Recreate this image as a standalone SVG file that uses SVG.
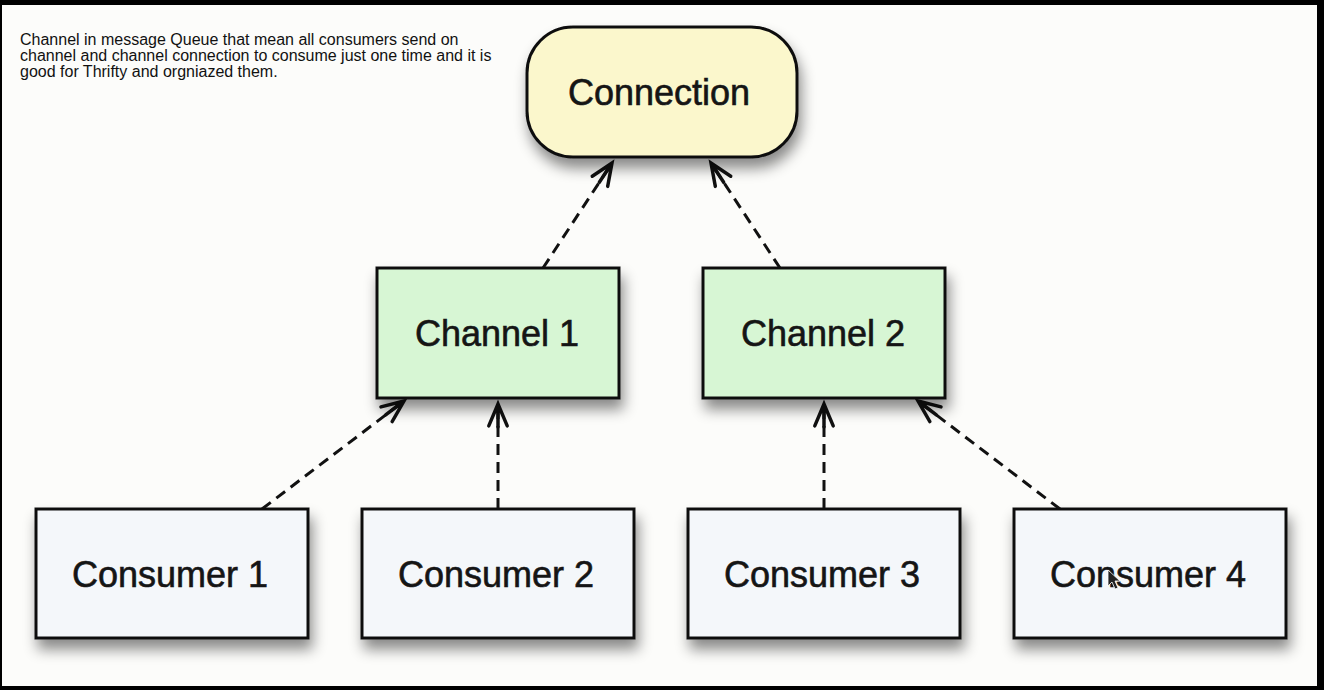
<svg xmlns="http://www.w3.org/2000/svg" width="1324" height="690" viewBox="0 0 1324 690">
<defs>
<style>
.node{stroke:#111;stroke-width:3;filter:url(#sh)}
.conn{fill:#fbf7cc}
.chan{fill:#d7f6d4}
.cons{fill:#f4f7fa}
.lbl{font-family:"Liberation Sans",Arial,sans-serif;font-size:36px;fill:#151515;stroke:#151515;stroke-width:0.6;text-anchor:middle}
.edge{fill:none;stroke:#111;stroke-width:3;stroke-dasharray:11 7;marker-end:url(#ah)}
.note{font-family:"Liberation Sans",Arial,sans-serif;font-size:16px;fill:#111}
</style>
<filter id="sh" x="-20%" y="-20%" width="150%" height="170%">
<feDropShadow dx="3" dy="10" stdDeviation="7" flood-color="#000" flood-opacity="0.45"/>
</filter>
<marker id="ah" markerUnits="userSpaceOnUse" markerWidth="30" markerHeight="30" viewBox="-22 -12 26 24" refX="0" refY="0" orient="auto">
<path d="M-19,-8 L0,0 L-19,8 M-20,0 L0,0" fill="none" stroke="#111" stroke-width="3" stroke-linecap="round" stroke-linejoin="miter"/>
</marker>
</defs>
<rect x="0" y="0" width="1324" height="690" fill="#000"/>
<rect x="2" y="5" width="1315" height="681" fill="#fcfcfa"/>
<g id="note">
<text class="note" x="20" y="45">Channel in message Queue that mean all consumers send on</text>
<text class="note" x="20" y="61">channel and channel connection to consume just one time and it is</text>
<text class="note" x="20" y="77">good for Thrifty and orgniazed them.</text>
</g>
<g id="connectors">
<line class="edge" x1="543" y1="268" x2="612" y2="163"/>
<line class="edge" x1="780" y1="268" x2="711" y2="163"/>
<line class="edge" x1="262" y1="509" x2="404" y2="401"/>
<line class="edge" x1="498" y1="509" x2="498" y2="404"/>
<line class="edge" x1="824" y1="509" x2="824" y2="404"/>
<line class="edge" x1="1060" y1="509" x2="918" y2="401"/>
</g>
<g id="connection">
<rect class="node conn" x="527" y="27" width="270" height="130" rx="46" ry="46"/>
<text class="lbl" x="659" y="105">Connection</text>
</g>
<g id="channel1">
<rect class="node chan" x="377" y="268" width="242" height="130"/>
<text class="lbl" x="497" y="346">Channel 1</text>
</g>
<g id="channel2">
<rect class="node chan" x="703" y="268" width="242" height="130"/>
<text class="lbl" x="823" y="346">Channel 2</text>
</g>
<g id="consumer1">
<rect class="node cons" x="36" y="509" width="272" height="129"/>
<text class="lbl" x="170" y="587">Consumer 1</text>
</g>
<g id="consumer2">
<rect class="node cons" x="362" y="509" width="272" height="129"/>
<text class="lbl" x="496" y="587">Consumer 2</text>
</g>
<g id="consumer3">
<rect class="node cons" x="688" y="509" width="272" height="129"/>
<text class="lbl" x="822" y="587">Consumer 3</text>
</g>
<g id="consumer4">
<rect class="node cons" x="1014" y="509" width="272" height="129"/>
<text class="lbl" x="1148" y="587">Consumer 4</text>
</g>
<path d="M1108,570 L1108,586 L1112,582 L1115,589 L1118,588 L1115,581 L1120,581 Z" fill="#222" stroke="#fff" stroke-width="0.8"/>
</svg>
